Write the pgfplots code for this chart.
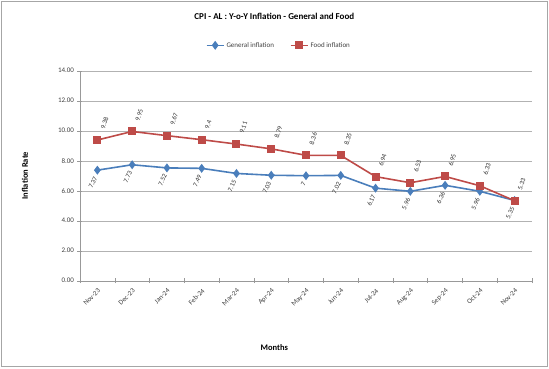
\documentclass[border=0pt]{standalone}
\usepackage{pgfplots}
\pgfplotsset{compat=1.18}
\usepackage{graphicx}
\usepackage{fontspec}
\setmainfont{Carlito}
\definecolor{genblue}{HTML}{4A7EBB}
\definecolor{foodred}{HTML}{BE4B48}
\newcommand{\lablow}[1]{\smash{\makebox[0pt][l]{\rotatebox{65}{\llap{\raisebox{-2.2pt}{#1}\hspace{9pt}}}}}}
\newcommand{\labhigh}[1]{\smash{\makebox[0pt][l]{\rotatebox{72}{\rlap{\hspace{10pt}\raisebox{-2.2pt}{#1}}}}}}
\begin{document}
\begin{tikzpicture}[x=1pt,y=1pt]
\useasboundingbox (-80,-87.3) rectangle (469,280.7);
\draw[gray!70, line width=1pt] (-78.5,-85.8) rectangle (467.5,279.2);
\begin{axis}[
  at={(0,0)}, anchor=south west,
  scale only axis, width=452pt, height=210pt,
  xmin=-0.5, xmax=12.5, ymin=0, ymax=14,
  xtick={0,...,12},
  xticklabels={Nov-23,Dec-23,Jan-24,Feb-24,Mar-24,Apr-24,May-24,Jun-24,Jul-24,Aug-24,Sep-24,Oct-24,Nov-24},
  major x tick style={draw=none},
  minor xtick={-0.5,0.5,...,12.5},
  minor tick length=5pt,
  ytick={0,2,...,14},
  yticklabel={\pgfmathprintnumber[fixed,fixed zerofill,precision=2]{\tick}},
  /pgf/number format/assume math mode=true,
  tick align=center, major tick length=5pt,
  tick style={gray!80, thin},
  axis x line*=bottom, axis y line*=left,
  axis line style={gray!80, thin, -},
  ymajorgrids, grid style={gray!60, thin},
  ticklabel style={font=\fontsize{7}{8}\selectfont, text=black!75},
  xticklabel style={rotate=45, anchor=north east, font=\fontsize{7}{8}\selectfont},
  xlabel={\textbf{Months}}, ylabel={\textbf{Inflation Rate}},
  xlabel style={font=\fontsize{8.5}{10}\selectfont, at={(0.43,0)}, anchor=north, yshift=-60pt},
  ylabel style={font=\fontsize{8.5}{10}\selectfont, at={(-0.122,0.5)}, anchor=center},
  title={\textbf{CPI - AL : Y-o-Y Inflation - General and Food}},
  title style={font=\fontsize{9}{11}\selectfont, at={(0.43,1)}, anchor=south, yshift=42pt},
  legend style={at={(0.44,1)}, anchor=south, yshift=18pt, draw=none, fill=none,
     legend columns=2, font=\fontsize{7}{8}\selectfont, text=black!75,
     /tikz/every even column/.append style={column sep=14pt}},
  legend cell align=left,
  clip=false,
]
\addplot[genblue, line width=1.6pt, mark=diamond*, mark size=3.2pt,
  nodes near coords={\lablow{\pgfmathprintnumber{\pgfplotspointmeta}}},
  every node near coord/.append style={font=\fontsize{6.8}{7}\selectfont, text=black!80, inner sep=0pt}]
  coordinates {(0,7.37)(1,7.73)(2,7.52)(3,7.49)(4,7.15)(5,7.03)(6,7)(7,7.02)(8,6.17)(9,5.96)(10,6.36)(11,5.96)(12,5.35)};
\addlegendentry{General inflation}
\addplot[foodred, line width=1.6pt, mark=square*, mark size=3.2pt,
  nodes near coords={\labhigh{\pgfmathprintnumber{\pgfplotspointmeta}}},
  every node near coord/.append style={font=\fontsize{6.8}{7}\selectfont, text=black!80, inner sep=0pt}]
  coordinates {(0,9.38)(1,9.95)(2,9.67)(3,9.4)(4,9.11)(5,8.79)(6,8.36)(7,8.35)(8,6.94)(9,6.53)(10,6.95)(11,6.33)(12,5.33)};
\addlegendentry{Food inflation}
\end{axis}
\end{tikzpicture}
\end{document}
